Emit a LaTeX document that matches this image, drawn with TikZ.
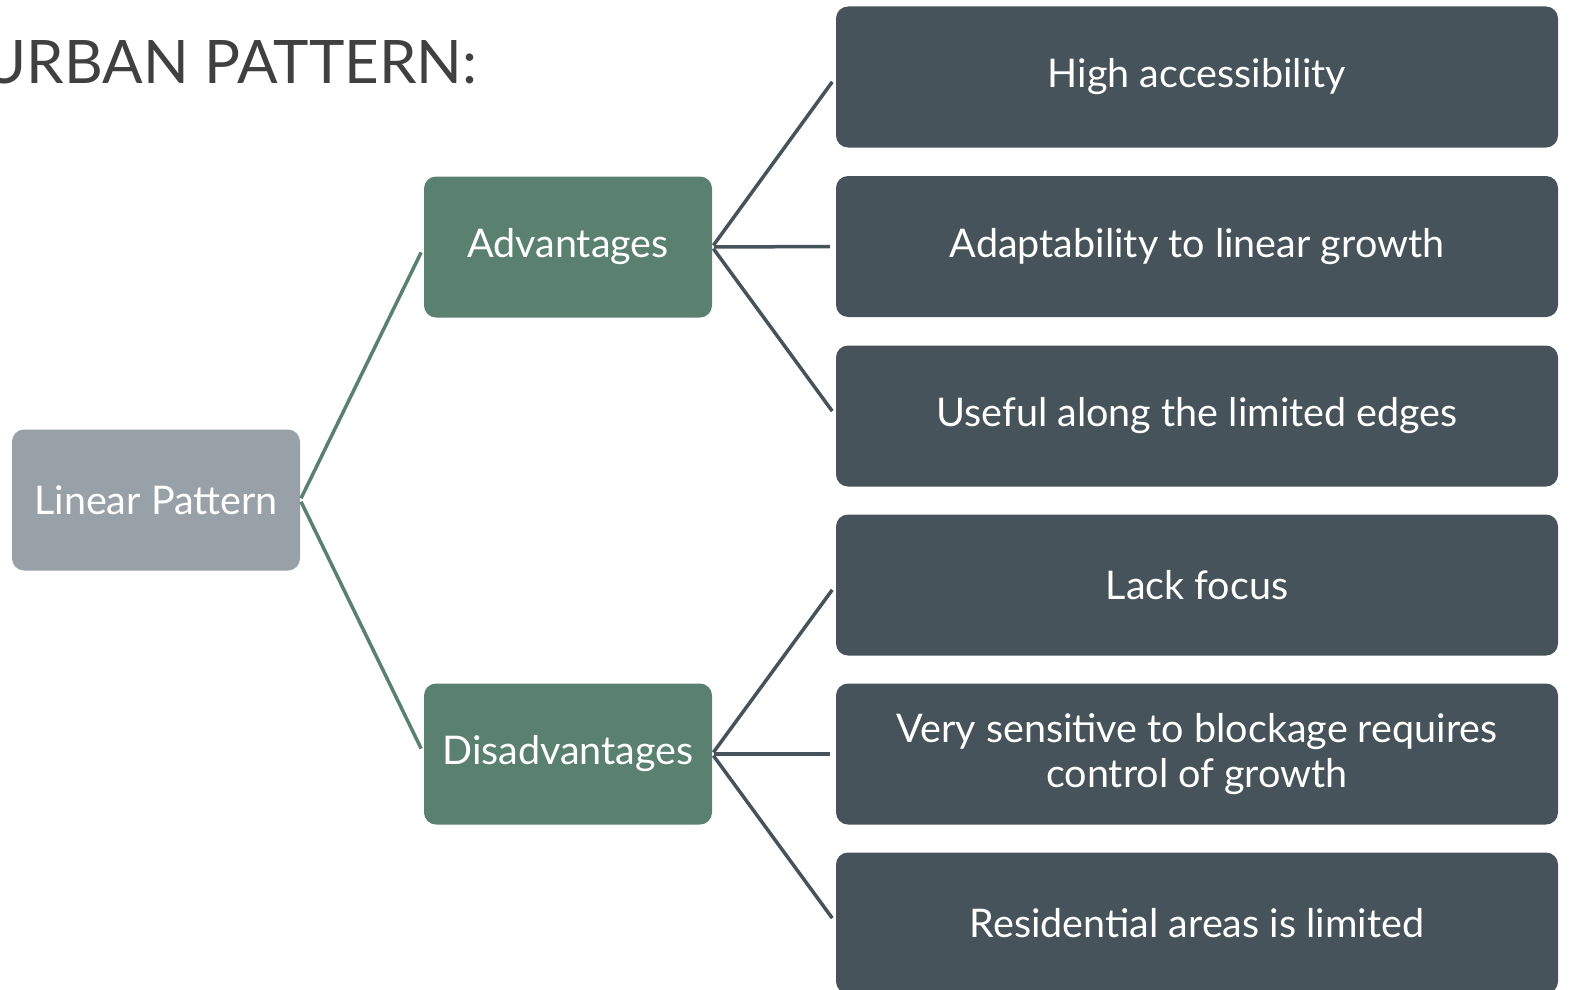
\documentclass[tikz,border=0pt]{standalone}
\usepackage{fontspec}
\setmainfont{Lato}
\usepackage{tikz}
\usetikzlibrary{calc}
\definecolor{titletext}{HTML}{404040}
\definecolor{rootfill}{HTML}{98A0A8}
\definecolor{branchfill}{HTML}{5A8070}
\definecolor{leaffill}{HTML}{46535A}
\tikzset{
  box/.style={rounded corners=12pt, text=white, align=center, inner sep=0pt,
    font=\fontsize{39.5}{45}\selectfont},
  root/.style={box, fill=rootfill, minimum width=288pt, minimum height=141pt},
  branch/.style={box, fill=branchfill, minimum width=288pt, minimum height=141pt},
  leaf/.style={box, fill=leaffill, minimum width=722pt, minimum height=141pt},
  linkg/.style={draw=branchfill, line width=3.5pt, shorten <=2pt, shorten >=6pt},
  linkd/.style={draw=leaffill, line width=3.5pt, shorten <=2pt, shorten >=6pt},
}

\begin{document}
\begin{tikzpicture}[x=1pt, y=-1pt]
  \useasboundingbox (0,0) rectangle (1571,990);
  \clip (0,0) rectangle (1571,990);
  \node[text=titletext, anchor=base east, font=\fontsize{60}{66}\selectfont] (title) at (481,84) {URBAN PATTERN:};
  \node[root] (lin) at (156,500) {Linear Pattern};
  \node[branch] (adv) at (568,247) {Advantages};
  \node[branch] (dis) at (568,754) {Disadvantages};
  \node[leaf] (a1) at (1197,77) {High accessibility};
  \node[leaf] (a2) at (1197,246.5) {Adaptability to linear growth};
  \node[leaf] (a3) at (1197,416) {Useful along the limited edges};
  \node[leaf] (d1) at (1197,585) {Lack focus};
  \node[leaf] (d2) at (1197,754) {Very sensitive to blockage requires\\control of growth};
  \node[leaf] (d3) at (1197,923) {Residential areas is limited};
  \draw[linkg] (lin.east) -- (adv.west);
  \draw[linkg] (lin.east) -- (dis.west);
  \foreach \n in {a1,a2,a3} \draw[linkd] (adv.east) -- (\n.west);
  \foreach \n in {d1,d2,d3} \draw[linkd] (dis.east) -- (\n.west);
\end{tikzpicture}
\end{document}
